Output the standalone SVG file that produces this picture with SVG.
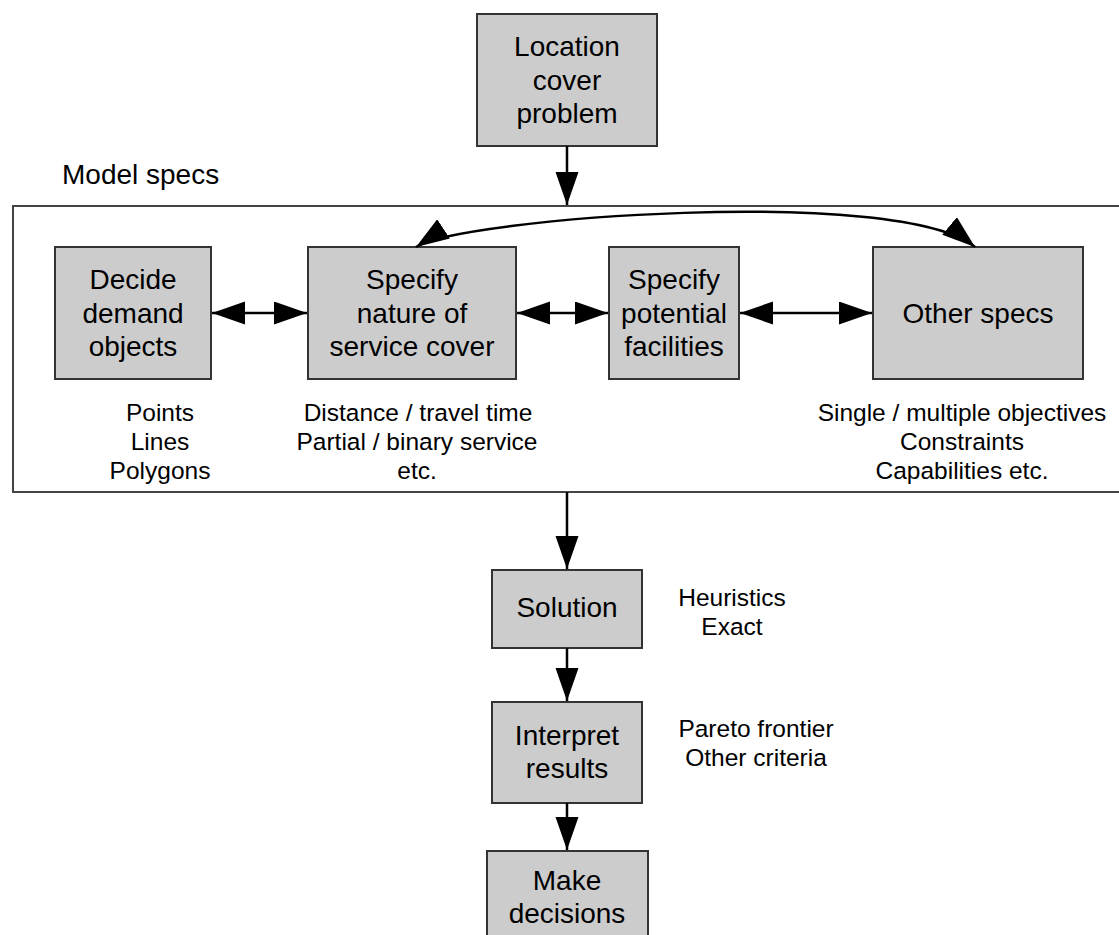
<svg xmlns="http://www.w3.org/2000/svg" width="1119" height="935" viewBox="0 0 1119 935">
<style>
.box{fill:#cccccc;stroke:#333333;stroke-width:2}
.frame{fill:none;stroke:#444444;stroke-width:2}
.bt{font-family:"Liberation Sans",Arial,sans-serif;font-size:28px;fill:#000;text-anchor:middle}
.lt{font-family:"Liberation Sans",Arial,sans-serif;font-size:24.5px;fill:#000;text-anchor:middle}
.ttl{font-family:"Liberation Sans",Arial,sans-serif;font-size:28px;fill:#000}
.c{fill:none;stroke:#000;stroke-width:2.5}
</style>
<defs>
<marker id="ah" markerUnits="userSpaceOnUse" markerWidth="34" markerHeight="24" refX="33" refY="11.5" orient="auto-start-reverse" viewBox="0 0 34 24">
<path d="M0,0 L33,11.5 L0,23 z" fill="#000"/>
</marker>
</defs>
<rect width="1119" height="935" fill="#fff"/>
<g id="frame">
<rect class="frame" x="13" y="206" width="1120" height="286"/>
<text class="ttl" x="62" y="184">Model specs</text>
</g>
<g id="n-location">
<rect class="box" x="477" y="14" width="180" height="132"/>
<text class="bt" x="567" y="56">Location</text>
<text class="bt" x="567" y="90">cover</text>
<text class="bt" x="567" y="123">problem</text>
</g>
<g id="n-decide">
<rect class="box" x="55" y="247" width="156" height="132"/>
<text class="bt" x="133" y="289">Decide</text>
<text class="bt" x="133" y="323">demand</text>
<text class="bt" x="133" y="356">objects</text>
</g>
<g id="n-nature">
<rect class="box" x="308" y="247" width="208" height="132"/>
<text class="bt" x="412" y="289">Specify</text>
<text class="bt" x="412" y="323">nature of</text>
<text class="bt" x="412" y="356">service cover</text>
</g>
<g id="n-potential">
<rect class="box" x="609" y="247" width="130" height="132"/>
<text class="bt" x="674" y="289">Specify</text>
<text class="bt" x="674" y="323">potential</text>
<text class="bt" x="674" y="356">facilities</text>
</g>
<g id="n-other">
<rect class="box" x="873" y="247" width="210" height="132"/>
<text class="bt" x="978" y="323">Other specs</text>
</g>
<g id="labels">
<text class="lt" x="160" y="421">Points</text>
<text class="lt" x="160" y="450">Lines</text>
<text class="lt" x="160" y="479">Polygons</text>
<text class="lt" x="418" y="421">Distance / travel time</text>
<text class="lt" x="417" y="450">Partial / binary service</text>
<text class="lt" x="417" y="479">etc.</text>
<text class="lt" x="962" y="421">Single / multiple objectives</text>
<text class="lt" x="962" y="450">Constraints</text>
<text class="lt" x="962" y="479">Capabilities etc.</text>
<text class="lt" x="732" y="606">Heuristics</text>
<text class="lt" x="732" y="635">Exact</text>
<text class="lt" x="756" y="737">Pareto frontier</text>
<text class="lt" x="756" y="766">Other criteria</text>
</g>
<g id="n-solution">
<rect class="box" x="492" y="570" width="150" height="78"/>
<text class="bt" x="567" y="617">Solution</text>
</g>
<g id="n-interpret">
<rect class="box" x="492" y="702" width="150" height="101"/>
<text class="bt" x="567" y="745">Interpret</text>
<text class="bt" x="567" y="778">results</text>
</g>
<g id="n-decisions">
<rect class="box" x="487" y="851" width="161" height="100"/>
<text class="bt" x="567" y="890">Make</text>
<text class="bt" x="567" y="923">decisions</text>
</g>
<g id="connectors">
<line class="c" x1="567" y1="146" x2="567" y2="205" marker-end="url(#ah)"/>
<line class="c" x1="212" y1="313" x2="307" y2="313" marker-start="url(#ah)" marker-end="url(#ah)"/>
<line class="c" x1="517" y1="313" x2="608" y2="313" marker-start="url(#ah)" marker-end="url(#ah)"/>
<line class="c" x1="740" y1="313" x2="872" y2="313" marker-start="url(#ah)" marker-end="url(#ah)"/>
<path class="c" d="M416,247 C460,218 900,185 975,247" marker-start="url(#ah)" marker-end="url(#ah)"/>
<line class="c" x1="567" y1="492" x2="567" y2="569" marker-end="url(#ah)"/>
<line class="c" x1="567" y1="648" x2="567" y2="701" marker-end="url(#ah)"/>
<line class="c" x1="567" y1="803" x2="567" y2="850" marker-end="url(#ah)"/>
</g>
</svg>
